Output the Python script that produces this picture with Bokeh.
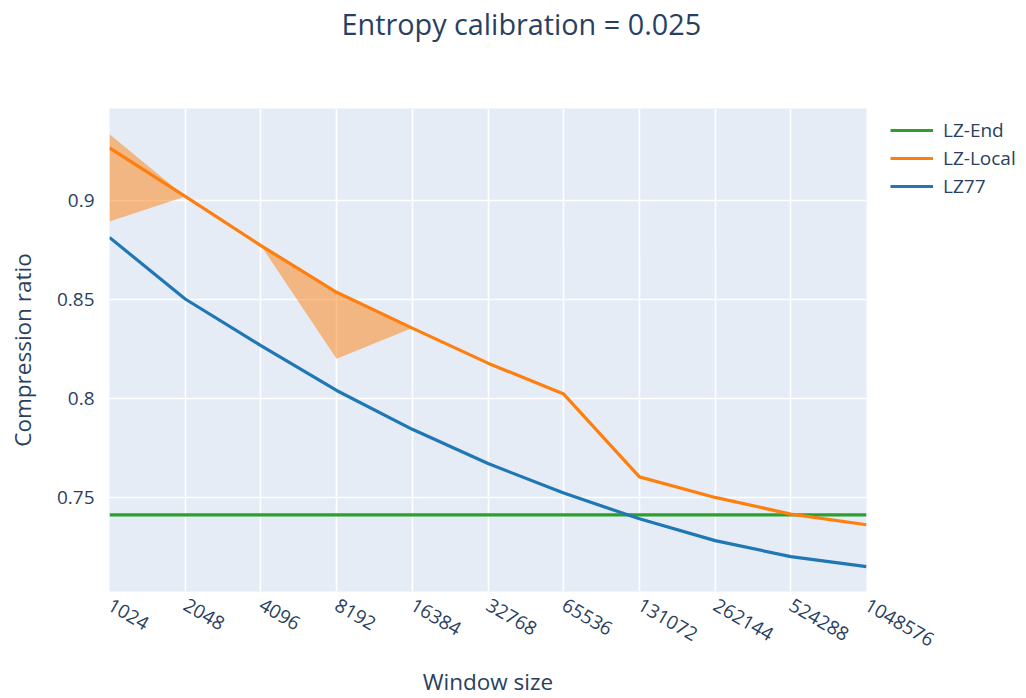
from bokeh.plotting import figure
from bokeh.models import (FixedTicker, CustomJSTickFormatter, Legend, LegendItem,
                          Range1d, Title)
from bokeh.embed import file_html
from bokeh.resources import INLINE
import math

# Window sizes (log2 spaced) and compression ratios per method
windows = [1024, 2048, 4096, 8192, 16384, 32768, 65536, 131072, 262144, 524288, 1048576]
lz77 = [0.8815, 0.8504, 0.8269, 0.8042, 0.7846, 0.7673, 0.7524, 0.7394, 0.7284, 0.7203, 0.7153]
lz_local = [0.9267, 0.9022, 0.8774, 0.8538, 0.8357, 0.8180, 0.8024, 0.7606, 0.7502, 0.7418, 0.7364]
lz_local_hi = [0.9336, 0.9022, 0.8774, 0.8540, 0.8357, 0.8180, 0.8024, 0.7606, 0.7502, 0.7418, 0.7364]
lz_local_lo = [0.8896, 0.9022, 0.8774, 0.8202, 0.8357, 0.8180, 0.8024, 0.7606, 0.7502, 0.7418, 0.7364]
lz_end = [0.7414] * len(windows)
y_ticks = [0.75, 0.8, 0.85, 0.9]

FONT = "Open Sans"
INK = "#2a3f5f"

p = figure(
    x_axis_type="log",
    frame_width=757, frame_height=483,
    min_border_left=109, min_border_right=160,
    min_border_top=108, min_border_bottom=107,
    output_backend="svg", toolbar_location=None,
    background_fill_color="#E5ECF6", border_fill_color="white",
    outline_line_color=None,
)
p.x_range = Range1d(windows[0], windows[-1])
p.y_range = Range1d(0.7027, 0.9466)

# empty band between the frame and the title, so the title sits near the top
spacer = Title(text=" ", text_font_size="1px", standoff=63)
p.add_layout(spacer, "above")
title = Title(text="Entropy calibration = 0.025", align="left",
              text_font=FONT, text_font_size="28.8px", text_color=INK,
              text_font_style="normal", offset=232, standoff=0)
p.add_layout(title, "above")

# spread of LZ-Local runs
p.varea(x=windows, y1=lz_local_lo, y2=lz_local_hi,
        fill_color="#ff7f0e", fill_alpha=0.5)

r_end = p.line(windows, lz_end, line_color="#2ca02c", line_width=3.2)
r_local = p.line(windows, lz_local, line_color="#ff7f0e", line_width=3.2)
r_lz77 = p.line(windows, lz77, line_color="#1f77b4", line_width=3.2)

# axes
p.xaxis.ticker = FixedTicker(ticks=windows)
p.xaxis.formatter = CustomJSTickFormatter(code="return String(Math.round(tick));")
p.xaxis.major_label_orientation = -math.pi / 6
p.xaxis.axis_label = "Window size"
p.yaxis.ticker = FixedTicker(ticks=y_ticks)
p.yaxis.formatter = CustomJSTickFormatter(code="return String(Math.round(tick*100)/100);")
p.yaxis.axis_label = "Compression ratio"

for ax in (p.xaxis[0], p.yaxis[0]):
    ax.axis_line_color = None
    ax.major_tick_line_color = None
    ax.minor_tick_line_color = None
    ax.major_label_text_font = FONT
    ax.major_label_text_font_size = "19px"
    ax.major_label_text_color = INK
    ax.axis_label_text_font = FONT
    ax.axis_label_text_font_size = "22.5px"
    ax.axis_label_text_font_style = "normal"
    ax.axis_label_text_color = INK
p.xaxis.major_label_standoff = 6
p.xaxis.axis_label_standoff = 10
p.yaxis.major_label_standoff = 9
p.yaxis.axis_label_standoff = 16

p.xgrid.grid_line_color = "white"
p.ygrid.grid_line_color = "white"
p.xgrid.grid_line_width = 1.6
p.ygrid.grid_line_width = 1.6
p.xgrid.minor_grid_line_color = None

legend = Legend(items=[
    LegendItem(label="LZ-End", renderers=[r_end]),
    LegendItem(label="LZ-Local", renderers=[r_local]),
    LegendItem(label="LZ77", renderers=[r_lz77]),
], location=(24, 392))
legend.label_text_font = FONT
legend.label_text_font_size = "19px"
legend.label_text_color = INK
legend.glyph_width = 43
legend.glyph_height = 22
legend.label_height = 22
legend.label_standoff = 10
legend.spacing = 2
legend.padding = 0
legend.margin = 0
legend.border_line_color = None
legend.background_fill_color = "white"
p.add_layout(legend, "right")

open("out.html", "w").write(file_html(p, INLINE))
